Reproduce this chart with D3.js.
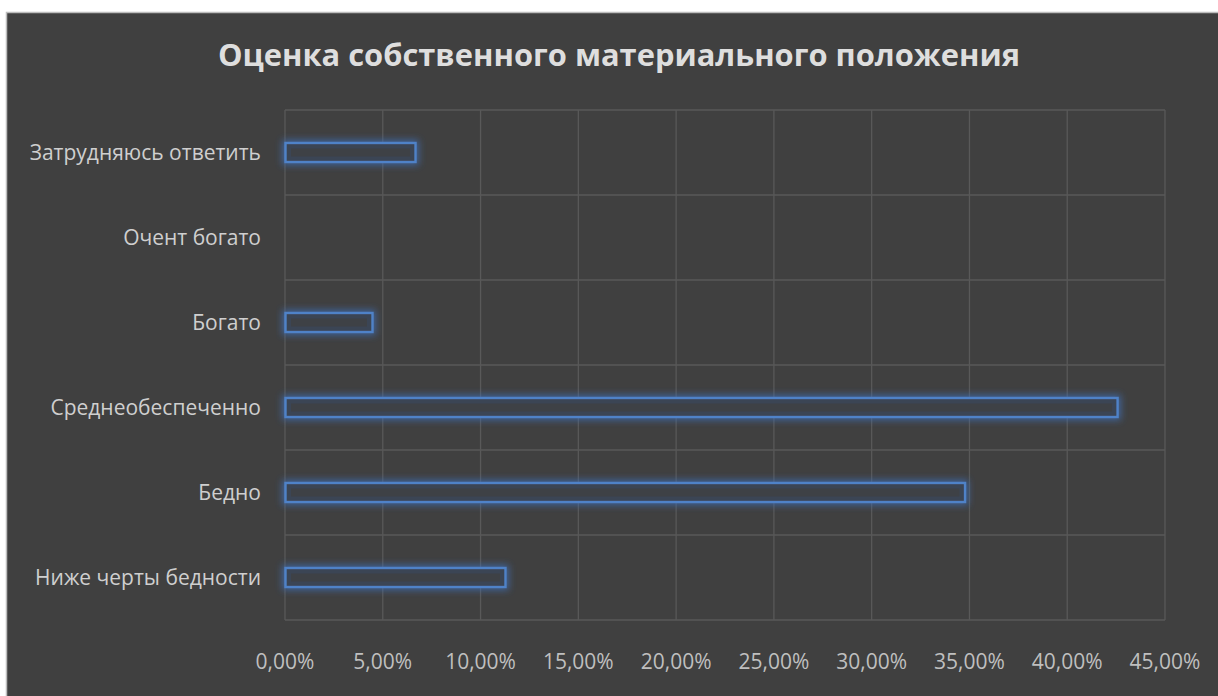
<!DOCTYPE html>
<html><head><meta charset="utf-8">
<script src="https://cdn.jsdelivr.net/npm/d3@7"></script>
<style>html,body{margin:0;padding:0;background:#fff;overflow:hidden}</style>
</head><body>
<svg id="chart" width="1218" height="696"></svg>
<script>
const title = "Оценка собственного материального положения";
const categories = ["Затрудняюсь ответить","Очент богато","Богато","Среднеобеспеченно","Бедно","Ниже черты бедности"];
const values = [0.067, 0, 0.045, 0.426, 0.348, 0.113];
const tickValues = [0,0.05,0.10,0.15,0.20,0.25,0.30,0.35,0.40,0.45];

const svg = d3.select("#chart");
const W = 1218, H = 696;
svg.append("rect").attr("x",6.5).attr("y",12.5).attr("width",W).attr("height",H)
  .attr("fill","#404040").attr("stroke","#bdbdbd").attr("stroke-width",1.5);

const defs = svg.append("defs");
const f = defs.append("filter").attr("id","glow").attr("x","-10%").attr("y","-150%").attr("width","120%").attr("height","400%");
f.append("feMorphology").attr("in","SourceAlpha").attr("operator","dilate").attr("radius",1.5).attr("result","d");
f.append("feFlood").attr("flood-color","#3d6fb8").attr("flood-opacity",0.75).attr("result","c");
f.append("feComposite").attr("in","c").attr("in2","d").attr("operator","in").attr("result","cd");
f.append("feGaussianBlur").attr("in","cd").attr("stdDeviation",3.5).attr("result","b");
const m = f.append("feMerge");
m.append("feMergeNode").attr("in","b");
m.append("feMergeNode").attr("in","SourceGraphic");

const x = d3.scaleLinear().domain([0,0.45]).range([285,1165]);
const y = d3.scaleBand().domain(categories).range([110,620]).paddingInner(0).paddingOuter(0);

const g = svg.append("g");
g.selectAll("line.v").data(tickValues).join("line")
  .attr("x1",d=>x(d)).attr("x2",d=>x(d)).attr("y1",110).attr("y2",620)
  .attr("stroke","#595959").attr("stroke-width",1.3);
const hb = categories.map(c=>y(c)).concat([620]);
g.selectAll("line.h").data(hb).join("line")
  .attr("x1",285).attr("x2",1165).attr("y1",d=>d).attr("y2",d=>d)
  .attr("stroke","#595959").attr("stroke-width",1.3);

const bh = 20;
const bars = categories.map((c,i)=>({c,v:values[i]})).filter(d=>d.v>0);
const bg = svg.append("g");
bg.selectAll("rect.o").data(bars).join("rect")
  .attr("x",x(0)+0.5)
  .attr("y",d=>y(d.c)+y.bandwidth()/2-bh/2+0.5)
  .attr("width",d=>x(d.v)-x(0)-1)
  .attr("height",bh-1)
  .attr("fill","#3b4454")
  .attr("stroke","#4f82c8").attr("stroke-width",2.4)
  .attr("filter","url(#glow)");
// inner darker core
bg.selectAll("rect.i").data(bars).join("rect")
  .attr("x",x(0)+6)
  .attr("y",d=>y(d.c)+y.bandwidth()/2-bh/2+6)
  .attr("width",d=>Math.max(0,x(d.v)-x(0)-12))
  .attr("height",bh-12)
  .attr("fill","#404040").attr("opacity",0.7);

svg.append("g").selectAll("text").data(categories).join("text")
  .attr("x",261).attr("y",d=>y(d)+y.bandwidth()/2)
  .attr("dy","0.35em").attr("text-anchor","end")
  .attr("font-family","Open Sans").attr("font-size",21)
  .attr("fill","#cfcfcf").text(d=>d);

const fmt = d => (d*100).toFixed(2).replace(".",",")+"%";
svg.append("g").selectAll("text").data(tickValues).join("text")
  .attr("x",d=>x(d)).attr("y",669).attr("text-anchor","middle")
  .attr("font-family","Open Sans").attr("font-size",21)
  .attr("fill","#bfbfbf").text(fmt);

svg.append("text").attr("x",619).attr("y",66).attr("text-anchor","middle")
  .attr("font-family","Open Sans").attr("font-weight","bold").attr("font-size",30)
  .attr("textLength",802).attr("lengthAdjust","spacingAndGlyphs")
  .attr("fill","#dedede").text(title);
</script>
</body></html>
